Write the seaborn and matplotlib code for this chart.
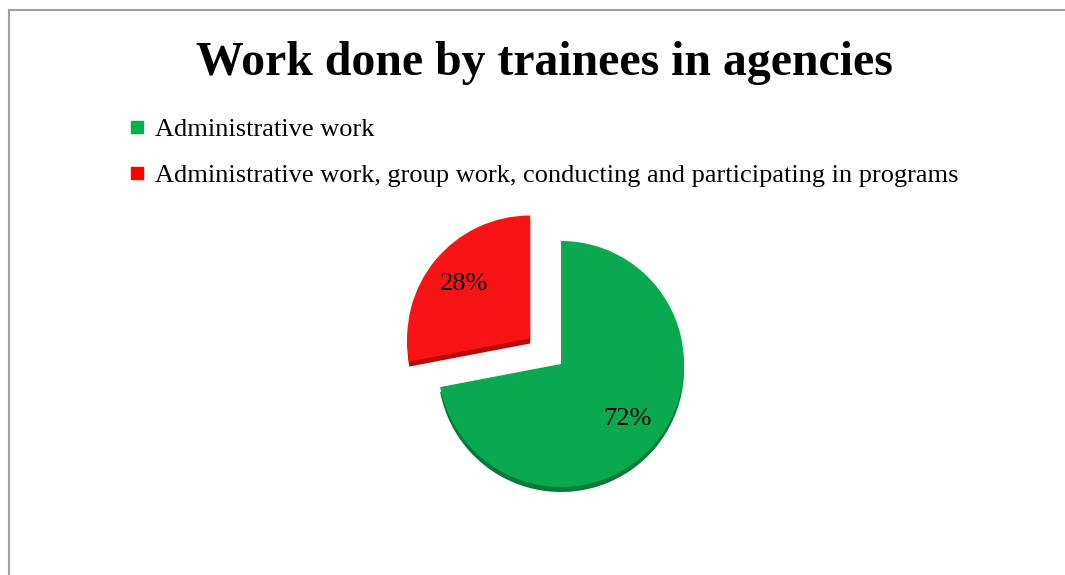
import matplotlib
matplotlib.use("Agg")
import matplotlib.pyplot as plt
import seaborn as sns
from matplotlib.lines import Line2D
from matplotlib.patches import Rectangle

# Share of work types done by trainees
categories = ["Administrative work",
              "Administrative work, group work, conducting and participating in programs"]
shares = [72, 28]
title = "Work done by trainees in agencies"

sns.set_theme(style="white")
plt.rcParams["font.family"] = ["Liberation Serif", "DejaVu Serif"]
plt.rcParams["text.color"] = "black"

face_colors = ["#0AA84F", "#F81414"]
side_colors = ["#067A38", "#B80808"]
legend_colors = ["#00B050", "#FF0000"]

W, H = 1065, 575
fig = plt.figure(figsize=(W / 100, H / 100), dpi=100)
fig.patch.set_facecolor("white")
ax = fig.add_axes([0, 0, 1, 1])

cx, cy = 561, H - 364
radius = 123
# pull the smaller slice out (offset in axis units)
explode = [0, 40]

# side (depth) of the pie, drawn slightly lower
ax.pie(shares, colors=side_colors, startangle=90, counterclock=False,
       explode=explode, center=(cx, cy - 5), radius=radius, frame=True,
       wedgeprops=dict(linewidth=0))
# top face with percentage labels
wedges, _, autotexts = ax.pie(
    shares, colors=face_colors, startangle=90, counterclock=False,
    explode=explode, center=(cx, cy), radius=radius, frame=True,
    autopct=lambda p: f"{p:.0f}%", pctdistance=0.7,
    wedgeprops=dict(linewidth=0),
    textprops=dict(fontsize=19, color="black"))

ax.set_xlim(0, W)
ax.set_ylim(0, H)
ax.set_aspect("auto")
ax.axis("off")

# outer frame of the chart area
ax.add_patch(Rectangle((9, -10), W + 20, H, fill=False,
                       edgecolor="#A0A0A0", linewidth=1.5, clip_on=True))

fig.text(544 / W, 1 - 75 / H, title, ha="center", va="baseline",
         fontsize=34.4, fontweight="bold", color="black")

handles = [Line2D([0], [0], marker="s", linestyle="none", markersize=9,
                  markerfacecolor=c, markeredgecolor=c) for c in legend_colors]
leg = fig.legend(handles, categories, loc="upper left",
                 bbox_to_anchor=(130 / W, 1 - 118 / H), frameon=False,
                 fontsize=19, handlelength=0.55, handletextpad=0.4,
                 labelspacing=0.84, borderpad=0, borderaxespad=0)
for t in leg.get_texts():
    t.set_color("black")

fig.savefig("out.png", dpi=100, facecolor="white")
